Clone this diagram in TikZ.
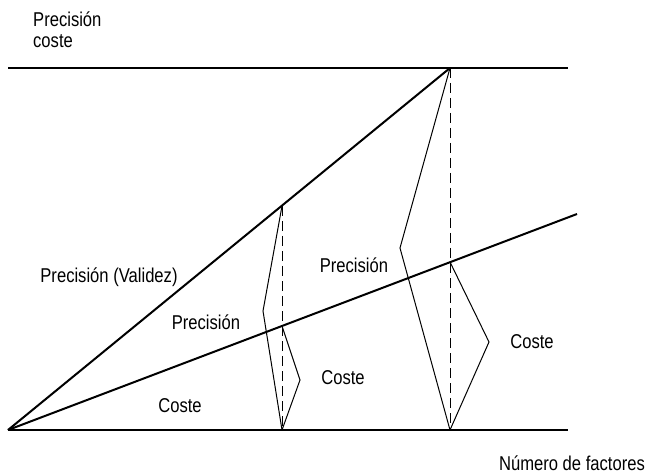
\documentclass[tikz,border=0pt]{standalone}
\usepackage{fontspec}
\setmainfont{Liberation Sans}[FakeStretch=0.83]
\usepackage{tikz}
\usetikzlibrary{positioning}

\begin{document}
\begin{tikzpicture}[x=1pt, y=-1pt,
    thickline/.style={line width=2pt},
    thinline/.style={line width=1pt},
    dashline/.style={line width=1pt, dash pattern=on 10pt off 5pt},
    lbl/.style={inner sep=0pt, font=\fontsize{20}{21}\selectfont}]
    \useasboundingbox (0,0) rectangle (646,476);

    % axes and points
    \coordinate (O) at (8,430);
    \coordinate (tl) at (8,68);
    \coordinate (tr) at (568,68);
    \coordinate (br) at (568,430);
    \coordinate (top) at (450,68);
    \coordinate (end) at (577,214);
    \coordinate (m1) at (282,206);
    \coordinate (b1) at (282,430);
    \coordinate (c1) at (282,326);
    \coordinate (p1) at (263,311);
    \coordinate (k1) at (300,380);
    \coordinate (b2) at (450,430);
    \coordinate (c2) at (450,262);
    \coordinate (p2) at (400,248);
    \coordinate (k2) at (489,342);

    \draw[thickline] (tl) -- (tr);
    \draw[thickline] (O) -- (br);
    \draw[thickline] (O) -- (top);
    \draw[thickline] (O) -- (end);

    \draw[dashline] (m1) -- (b1);
    \draw[dashline] (top) -- (b2);

    \draw[thinline] (m1) -- (p1) -- (b1);
    \draw[thinline] (c1) -- (k1) -- (b1);
    \draw[thinline] (top) -- (p2) -- (b2);
    \draw[thinline] (c2) -- (k2) -- (b2);

    \node[lbl, align=left, anchor=west] (yaxis) at (33,30) {Precisión\\coste};
    \node[lbl] (prevalid) at (109,277) {Precisión (Validez)};
    \node[lbl] (prec1) at (206,322) {Precisión};
    \node[lbl] (coste0) at (180,406) {Coste};
    \node[lbl] (coste1) at (343,378) {Coste};
    \node[lbl] (prec2) at (354,265) {Precisión};
    \node[lbl] (coste2) at (532,342) {Coste};
    \node[lbl] (xaxis) at (572,463) {Número de factores};
\end{tikzpicture}
\end{document}
